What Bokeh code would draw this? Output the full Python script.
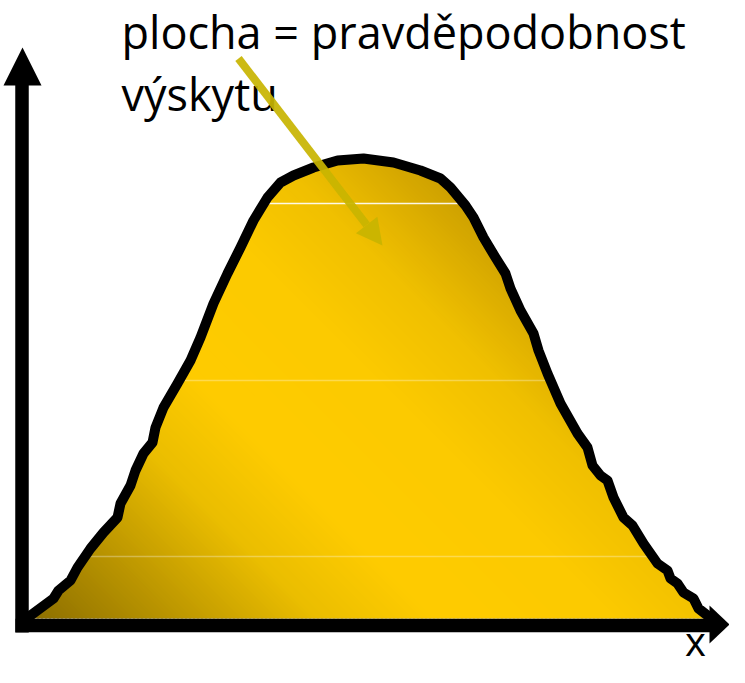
import numpy as np
from bokeh.plotting import figure
from bokeh.models import Range1d, ColumnDataSource
from bokeh.core.properties import value
from bokeh.embed import file_html
from bokeh.resources import INLINE

# ---- data (in reference pixel units, y downwards) ----
curve_x = [30, 53, 58, 70, 77, 90, 103, 117, 120, 130, 135, 143, 152, 155, 163, 177,
           190, 200, 213, 227, 240, 253, 267, 280, 293, 313, 337, 363, 393, 420, 440,
           450, 465, 473, 483, 495, 505, 510, 520, 533, 538, 547, 560, 577, 587, 592,
           600, 607, 613, 623, 632, 643, 657, 667, 670, 677, 683, 693, 698, 707]
curve_y = [615, 598, 590, 580, 567, 548, 532, 517, 503, 485, 470, 453, 442, 427, 407, 383,
           360, 337, 303, 273, 247, 220, 197, 182, 175, 167, 160, 158, 162, 170, 178,
           187, 205, 217, 237, 257, 273, 288, 310, 333, 350, 373, 403, 433, 447, 465,
           475, 480, 497, 517, 525, 543, 563, 570, 578, 583, 592, 598, 608, 615]
base_level = 618

label_lines = ["plocha = pravděpodobnost", "výskytu"]
label_x = 121
label_baselines = [48, 110]
axis_label = "x"
axis_label_pos = (695, 655)

arrow_start = (238, 58)
arrow_tip = (382, 245)

# gradient stops along t = x - y
grad_t = [-590, -450, -300, -180, 0, 120, 265]
grad_rgb = [(140, 110, 0), (185, 148, 0), (235, 190, 0), (255, 204, 0),
            (252, 202, 0), (240, 192, 0), (205, 160, 0)]

artifact_levels = [203, 380, 556]
artifact_alpha = [0.9, 0.3, 0.3]

W, H = 729, 667
p = figure(width=W, height=H, x_range=Range1d(0, W), y_range=Range1d(H, 0),
           output_backend="svg", toolbar_location=None,
           x_axis_location=None, y_axis_location=None, min_border=0)
p.grid.visible = False
p.outline_line_color = None
p.background_fill_color = "white"
p.border_fill_color = "white"

# ---- gradient fill by diagonal bands ----
poly = [np.array([x, y], float) for x, y in zip(curve_x, curve_y)]
poly += [np.array([curve_x[-1], base_level], float), np.array([curve_x[0], base_level], float)]


def clip(pts, f):
    out = []
    n = len(pts)
    for i in range(n):
        P, Q = pts[i], pts[(i + 1) % n]
        fp, fq = f(P), f(Q)
        if fp >= 0:
            out.append(P)
        if (fp >= 0) != (fq >= 0):
            s = fp / (fp - fq)
            out.append(P + s * (Q - P))
    return out


tvals = [pt[0] - pt[1] for pt in poly]
tmin, tmax = min(tvals) - 1, max(tvals) + 1
step = 4.0
xs, ys, cols = [], [], []
edges = np.arange(tmin, tmax + step, step)
for a, b in zip(edges[:-1], edges[1:]):
    piece = clip(poly, lambda q, a=a: (q[0] - q[1]) - a)
    if len(piece) < 3:
        continue
    piece = clip(piece, lambda q, b=b: (b + 1.5) - (q[0] - q[1]))
    if len(piece) < 3:
        continue
    tm = 0.5 * (a + b)
    r = np.interp(tm, grad_t, [c[0] for c in grad_rgb])
    g = np.interp(tm, grad_t, [c[1] for c in grad_rgb])
    bl = np.interp(tm, grad_t, [c[2] for c in grad_rgb])
    xs.append([q[0] for q in piece])
    ys.append([q[1] for q in piece])
    cols.append("#%02x%02x%02x" % (int(r), int(g), int(bl)))

p.patches(xs="xs", ys="ys", fill_color="c", line_color=None,
          source=ColumnDataSource(dict(xs=xs, ys=ys, c=cols)))

# faint horizontal artifacts inside the fill
cx = np.array(curve_x, float)
cy = np.array(curve_y, float)
for lvl, al in zip(artifact_levels, artifact_alpha):
    hits = []
    for i in range(len(cx) - 1):
        y0, y1 = cy[i], cy[i + 1]
        if (y0 - lvl) * (y1 - lvl) <= 0 and y0 != y1:
            hits.append(cx[i] + (lvl - y0) / (y1 - y0) * (cx[i + 1] - cx[i]))
    if len(hits) >= 2:
        p.segment(x0=[min(hits) + 5], y0=[lvl], x1=[max(hits) - 5], y1=[lvl],
                  line_color="white", line_alpha=al, line_width=1.3)

# outline
p.line(curve_x, curve_y, line_color="black", line_width=10,
       line_join="round", line_cap="round")

# axes with arrowheads
p.segment(x0=[21.5, 15], y0=[632, 625], x1=[21.5, 711], y1=[84, 625],
          line_color="black", line_width=13.5, line_cap="butt")
p.patches(xs=[[22, 3, 41], [729, 709, 709]], ys=[[47, 85, 85], [624, 605, 643]],
          fill_color="black", line_color=None)

# texts (the svg text anchor sits ~0.375 em above the drawn baseline)
BASE_SHIFT = 0.375
title_size = 45
for txt, yb in zip(label_lines, label_baselines):
    p.text(x=[label_x], y=[yb - BASE_SHIFT * title_size], text=[txt],
           text_font=value("Open Sans"), text_font_size=f"{title_size}px",
           text_color="black", text_baseline="alphabetic", text_align="left")
x_size = 40
p.text(x=[axis_label_pos[0]], y=[axis_label_pos[1] - BASE_SHIFT * x_size], text=[axis_label],
       text_font=value("Open Sans"), text_font_size=f"{x_size}px", text_color="black",
       text_baseline="alphabetic", text_align="center")

# pointer arrow
sx, sy = arrow_start
tx, ty = arrow_tip
d = np.array([tx - sx, ty - sy], float)
u = d / np.linalg.norm(d)
nrm = np.array([-u[1], u[0]])
head_len, head_half = 26, 13.5
base = np.array([tx, ty]) - head_len * u
c1 = base + head_half * nrm
c2 = base - head_half * nrm
p.segment(x0=[sx], y0=[sy], x1=[base[0]], y1=[base[1]], line_color="#c8b400",
          line_alpha=0.92, line_width=8, line_cap="butt")
p.patch(x=[tx, c1[0], c2[0]], y=[ty, c1[1], c2[1]], fill_color="#c8b400",
        fill_alpha=0.92, line_color=None)

open("out.html", "w").write(file_html(p, INLINE))
